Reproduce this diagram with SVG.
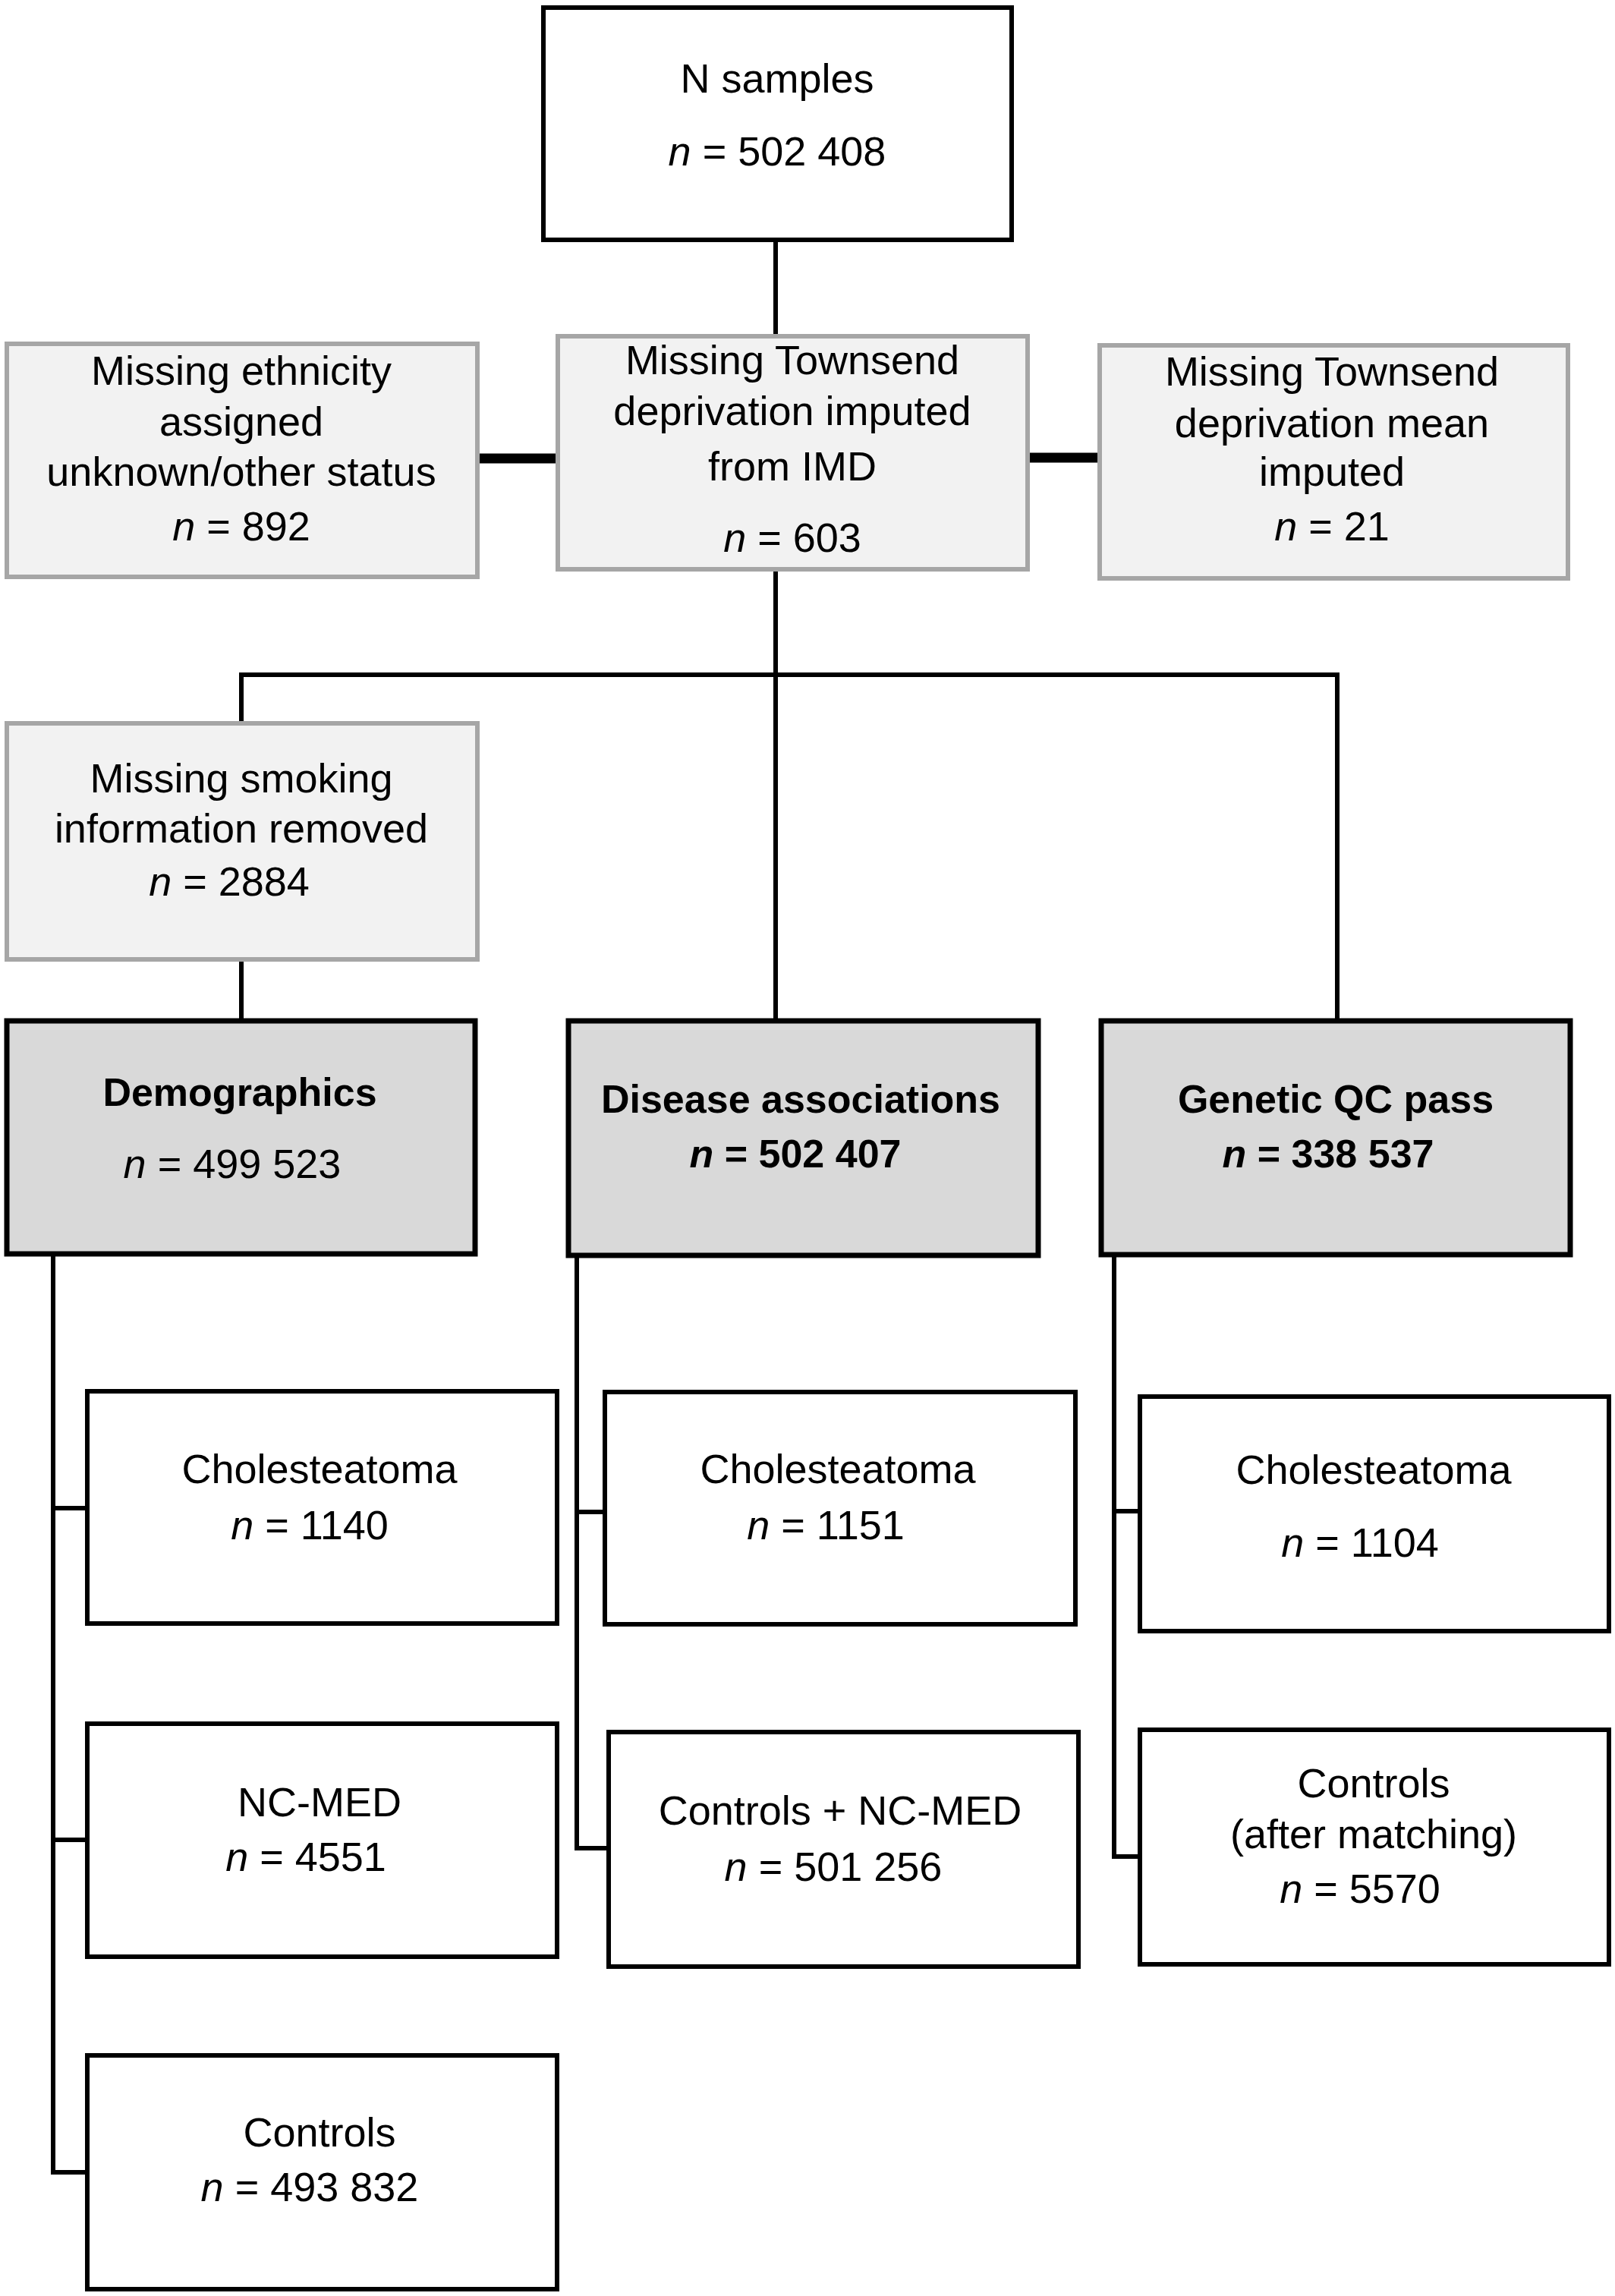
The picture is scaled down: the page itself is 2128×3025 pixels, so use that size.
<svg xmlns="http://www.w3.org/2000/svg" width="2128" height="3025" viewBox="0 0 2128 3025">
<style>
.bw{fill:#ffffff;stroke:#000;stroke-width:6}
.bg{fill:#f2f2f2;stroke:#a6a6a6;stroke-width:6}
.bd{fill:#d9d9d9;stroke:#000;stroke-width:7}
text{font-family:"Liberation Sans",Arial,sans-serif;font-size:54px;fill:#000;text-anchor:middle}
.b{font-weight:bold;font-size:52px}
.i{font-style:italic}
.ln{stroke:#000;stroke-width:6;fill:none}
.tk{stroke:#000;stroke-width:13;fill:none}
</style>
<g id="connectors">
<line class="ln" x1="1022" y1="316" x2="1022" y2="442"/>
<line class="tk" x1="629" y1="604" x2="733" y2="604"/>
<line class="tk" x1="1354" y1="603" x2="1447" y2="603"/>
<line class="ln" x1="1022" y1="750" x2="1022" y2="1343"/>
<polyline class="ln" points="318,952 318,889 1762,889 1762,1343"/>
<line class="ln" x1="318" y1="1264" x2="318" y2="1343"/>
<polyline class="ln" points="70,1653 70,2862 115,2862"/>
<line class="ln" x1="70" y1="1987" x2="115" y2="1987"/>
<line class="ln" x1="70" y1="2424" x2="115" y2="2424"/>
<polyline class="ln" points="760,1655 760,2435 806,2435"/>
<line class="ln" x1="760" y1="1992" x2="806" y2="1992"/>
<polyline class="ln" points="1468,1654 1468,2446 1509,2446"/>
<line class="ln" x1="1468" y1="1991" x2="1509" y2="1991"/>
</g>
<g id="n-samples">
<rect class="bw" x="716" y="10" width="617" height="306"/>
<text x="1024" y="122">N samples</text>
<text x="1024" y="218"><tspan class="i">n</tspan> = 502 408</text>
</g>
<g id="missing-ethnicity">
<rect class="bg" x="9" y="453" width="620" height="307"/>
<text x="318" y="507">Missing ethnicity</text>
<text x="318" y="574">assigned</text>
<text x="318" y="640">unknown/other status</text>
<text x="318" y="712"><tspan class="i">n</tspan> = 892</text>
</g>
<g id="townsend-imd">
<rect class="bg" x="735" y="443" width="619" height="307"/>
<text x="1044" y="493">Missing Townsend</text>
<text x="1044" y="560">deprivation imputed</text>
<text x="1044" y="633">from IMD</text>
<text x="1044" y="727"><tspan class="i">n</tspan> = 603</text>
</g>
<g id="townsend-mean">
<rect class="bg" x="1449" y="455" width="617" height="307"/>
<text x="1755" y="508">Missing Townsend</text>
<text x="1755" y="576">deprivation mean</text>
<text x="1755" y="640">imputed</text>
<text x="1755" y="712"><tspan class="i">n</tspan> = 21</text>
</g>
<g id="missing-smoking">
<rect class="bg" x="9" y="953" width="620" height="311"/>
<text x="318" y="1044">Missing smoking</text>
<text x="318" y="1110">information removed</text>
<text x="302" y="1180"><tspan class="i">n</tspan> = 2884</text>
</g>
<g id="demographics">
<rect class="bd" x="9" y="1345" width="617" height="307"/>
<text class="b" x="316" y="1457">Demographics</text>
<text x="306" y="1552"><tspan class="i">n</tspan> = 499 523</text>
</g>
<g id="disease-associations">
<rect class="bd" x="749" y="1345" width="619" height="309"/>
<text class="b" x="1055" y="1466">Disease associations</text>
<text class="b" x="1048" y="1538"><tspan class="i">n</tspan> = 502 407</text>
</g>
<g id="genetic-qc">
<rect class="bd" x="1451" y="1345" width="618" height="308"/>
<text class="b" x="1760" y="1466">Genetic QC pass</text>
<text class="b" x="1750" y="1538"><tspan class="i">n</tspan> = 338 537</text>
</g>
<g id="chol-demo">
<rect class="bw" x="115" y="1833" width="619" height="306"/>
<text x="421" y="1954">Cholesteatoma</text>
<text x="408" y="2028"><tspan class="i">n</tspan> = 1140</text>
</g>
<g id="ncmed-demo">
<rect class="bw" x="115" y="2271" width="619" height="307"/>
<text x="421" y="2393">NC-MED</text>
<text x="403" y="2465"><tspan class="i">n</tspan> = 4551</text>
</g>
<g id="controls-demo">
<rect class="bw" x="115" y="2708" width="619" height="308"/>
<text x="421" y="2828">Controls</text>
<text x="408" y="2900"><tspan class="i">n</tspan> = 493 832</text>
</g>
<g id="chol-disease">
<rect class="bw" x="797" y="1834" width="620" height="306"/>
<text x="1104" y="1954">Cholesteatoma</text>
<text x="1088" y="2028"><tspan class="i">n</tspan> = 1151</text>
</g>
<g id="controls-ncmed">
<rect class="bw" x="802" y="2282" width="619" height="309"/>
<text x="1107" y="2404">Controls + NC-MED</text>
<text x="1098" y="2478"><tspan class="i">n</tspan> = 501 256</text>
</g>
<g id="chol-genetic">
<rect class="bw" x="1502" y="1840" width="618" height="309"/>
<text x="1810" y="1955">Cholesteatoma</text>
<text x="1792" y="2051"><tspan class="i">n</tspan> = 1104</text>
</g>
<g id="controls-matched">
<rect class="bw" x="1502" y="2279" width="618" height="309"/>
<text x="1810" y="2368">Controls</text>
<text x="1810" y="2435">(after matching)</text>
<text x="1792" y="2507"><tspan class="i">n</tspan> = 5570</text>
</g>
</svg>
